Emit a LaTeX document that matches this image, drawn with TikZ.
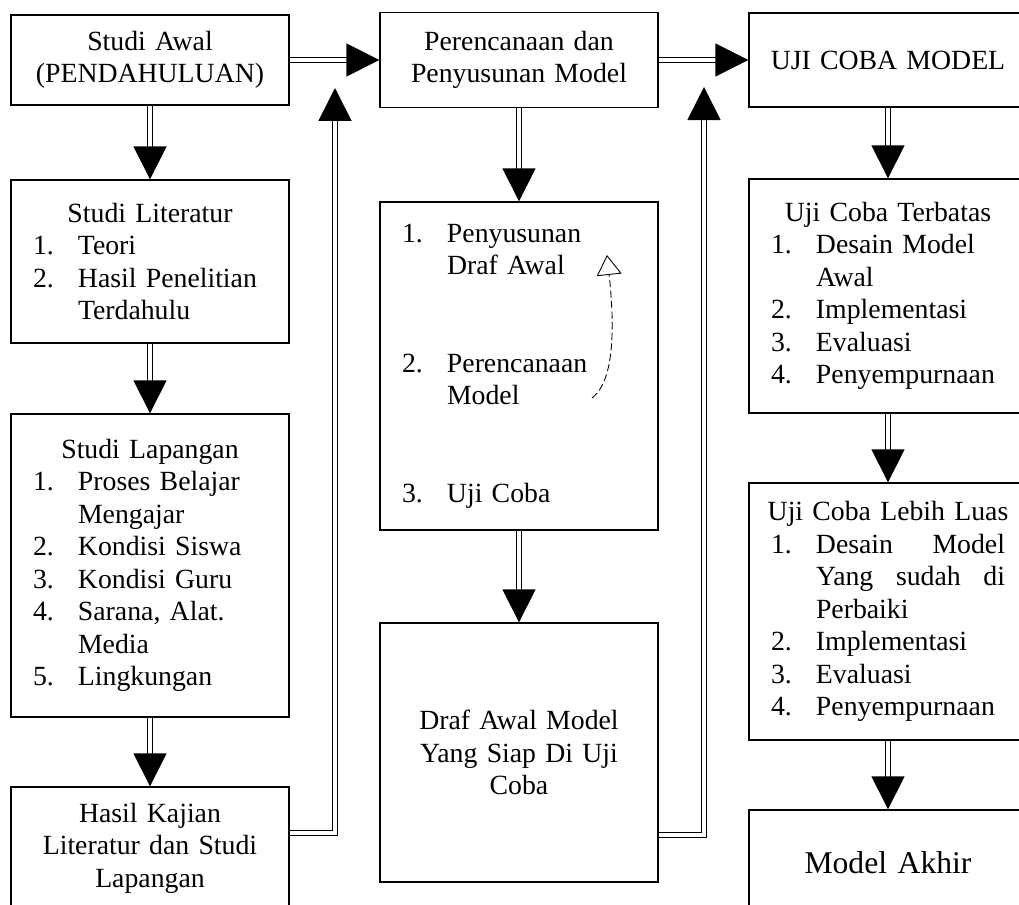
\documentclass[tikz,border=0pt]{standalone}
\usepackage{fontspec}
\setmainfont{Liberation Serif}
\usetikzlibrary{arrows.meta}

\newcommand{\boxfont}{\fontsize{15.8}{18.5}\selectfont}
\newcommand{\itemnr}[1]{\makebox[0.9cm][l]{#1}}
\newcommand{\itemgap}{\hspace*{0.9cm}}
\newcommand{\boxhead}[1]{\makebox[4.68cm]{#1}}
\newcommand{\spreadline}[2]{\hbox to 3.78cm{#1\hfill #2}}

\tikzset{
	box/.style={draw=black, line width=0.8pt, text width=4.68cm,
				inner xsep=0.44cm, inner ysep=0pt, font=\boxfont},
	flow/.style={draw=black, line width=0.9pt, double, double distance=2pt,
				 -{Triangle[width=0.66cm, length=0.66cm]}},
	sketch/.style={draw=black, line width=0.5pt, dash pattern=on 4pt off 2pt,
				   -{Triangle[open, width=0.5cm, length=0.4cm]}}
}

\begin{document}
\begin{tikzpicture}
	\useasboundingbox (0,0) rectangle (20.38,-18.1);
	\clip (0,0) rectangle (20.38,-18.1);

	% left column
	\draw (3.0,-1.2) node[box, align=center, minimum height=1.8cm](sa)
		{Studi Awal\\(PENDAHULUAN)};
	\draw (3.0,-5.23) node[box, align=left, minimum height=3.26cm](lit)
		{\boxhead{Studi Literatur}\\
		 \itemnr{1.}Teori\\
		 \itemnr{2.}Hasil Penelitian\\
		 \itemgap Terdahulu};
	\draw (3.0,-11.31) node[box, align=left, minimum height=6.06cm](lap)
		{\boxhead{Studi Lapangan}\\
		 \itemnr{1.}Proses Belajar\\
		 \itemgap Mengajar\\
		 \itemnr{2.}Kondisi Siswa\\
		 \itemnr{3.}Kondisi Guru\\
		 \itemnr{4.}Sarana, Alat.\\
		 \itemgap Media\\
		 \itemnr{5.}Lingkungan};
	\draw (3.0,-16.96) node[box, align=center, minimum height=2.44cm](hasil)
		{Hasil Kajian\\Literatur dan Studi\\Lapangan};

	% middle column
	\draw (10.38,-1.2) node[box, align=center, minimum height=1.9cm](per)
		{Perencanaan dan\\Penyusunan Model};
	\draw (10.38,-7.32) node[box, align=left, minimum height=6.56cm](lst)
		{\itemnr{1.}Penyusunan\\
		 \itemgap Draf Awal\\[37pt]
		 \itemnr{2.}Perencanaan\\
		 \itemgap Model\\[37pt]
		 \itemnr{3.}Uji Coba};
	\draw (10.38,-15.05) node[box, align=center, minimum height=5.18cm](draf)
		{Draf Awal Model\\Yang Siap Di Uji\\Coba};

	% right column
	\draw (17.76,-1.2) node[box, align=center, minimum height=1.88cm,
		text width=4.96cm, inner xsep=0.3cm](uji){UJI COBA MODEL};
	\draw (17.76,-5.92) node[box, align=left, minimum height=4.68cm](terb)
		{\boxhead{Uji Coba Terbatas}\\
		 \itemnr{1.}Desain Model\\
		 \itemgap Awal\\
		 \itemnr{2.}Implementasi\\
		 \itemnr{3.}Evaluasi\\
		 \itemnr{4.}Penyempurnaan};
	\draw (17.76,-12.23) node[box, align=left, minimum height=5.14cm](luas)
		{\boxhead{Uji Coba Lebih Luas}\\
		 \itemnr{1.}\spreadline{Desain}{Model}\\
		 \itemgap\spreadline{Yang\hfill sudah}{di}\\
		 \itemgap Perbaiki\\
		 \itemnr{2.}Implementasi\\
		 \itemnr{3.}Evaluasi\\
		 \itemnr{4.}Penyempurnaan};
	\draw (17.76,-17.26) node[box, align=center, minimum height=2.12cm,
		font=\fontsize{18}{21}\selectfont](akhir){Model Akhir};

	% free ends of the feedback arrows
	\coordinate (tip1) at (6.7,-1.76);
	\coordinate (tip2) at (14.08,-1.74);
	\coordinate (mk1) at (11.84,-7.96);
	\coordinate (mk2) at (12.14,-5.1);

	\draw[flow](sa) -- (lit);
	\draw[flow](lit) -- (lap);
	\draw[flow](lap) -- (hasil);
	\draw[flow](sa) -- (per);
	\draw[flow]([yshift=0.3cm]hasil.east) -| (tip1);

	\draw[flow](per) -- (lst);
	\draw[flow](lst) -- (draf);
	\draw[flow](per) -- (uji);
	\draw[flow]([yshift=-1.65cm]draf.east) -| (tip2);

	\draw[flow](uji) -- (terb);
	\draw[flow](terb) -- (luas);
	\draw[flow](luas) -- (akhir);

	\draw[sketch](mk1) .. controls (12.32,-7.6) and (12.28,-6.4) .. (mk2);
\end{tikzpicture}
\end{document}
